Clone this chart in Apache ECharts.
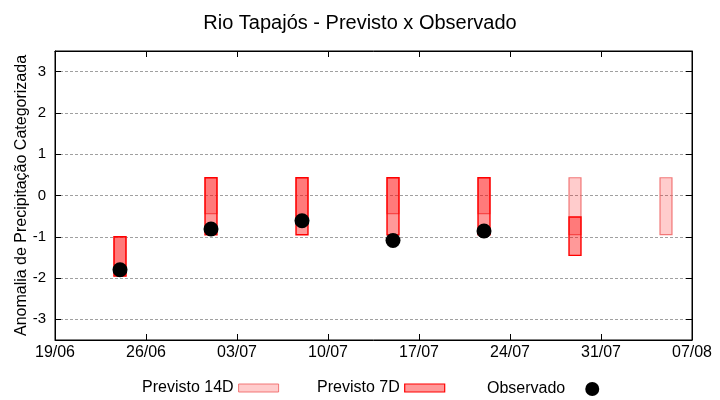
<!DOCTYPE html>
<html>
<head>
<meta charset="utf-8">
<script src="https://cdn.jsdelivr.net/npm/echarts@6/dist/echarts.min.js"></script>
<style>html,body{margin:0;padding:0;background:#fff}#c{width:720px;height:400px}</style>
</head>
<body>
<div id="c"></div>
<script>
// ---- data ----
var startDate = '19/06';
var tickLabels = ['19/06','26/06','03/07','10/07','17/07','24/07','31/07','07/08'];
var dates = ['24/06','01/07','08/07','15/07','22/07','29/07','05/08'];
var prev14Low  = [-1.95, -0.44, -0.60, -0.44, -0.44, -0.95, -0.95];
var prev14High = [-1.00,  0.43,  0.43,  0.43,  0.43,  0.43,  0.43];
var prev7Low   = [-1.95, -0.95, -0.95, -0.95, -0.95, -1.45, null];
var prev7High  = [-1.00,  0.43,  0.43,  0.43,  0.43, -0.52, null];
var observado  = [-1.80, -0.81, -0.61, -1.09, -0.86, null, null];

function dayOffset(s) {
  var a = s.split('/'), b = startDate.split('/');
  var t = Date.UTC(2024, +a[1] - 1, +a[0]);
  var t0 = Date.UTC(2024, +b[1] - 1, +b[0]);
  return Math.round((t - t0) / 86400000);
}

function boxData(lo, hi) {
  var out = [];
  for (var i = 0; i < dates.length; i++) {
    if (lo[i] == null || hi[i] == null) continue;
    out.push([dayOffset(dates[i]), lo[i], hi[i]]);
  }
  return out;
}
var obsData = [];
for (var i = 0; i < dates.length; i++) {
  if (observado[i] != null) obsData.push([dayOffset(dates[i]), observado[i]]);
}

function boxRender(fill, stroke, lw) {
  return function (params, api) {
    var x = api.value(0), lo = api.value(1), hi = api.value(2);
    var p1 = api.coord([x - 0.46, hi]);
    var p2 = api.coord([x + 0.46, lo]);
    return {
      type: 'rect',
      shape: { x: p1[0], y: p1[1], width: p2[0] - p1[0], height: p2[1] - p1[1] },
      style: { fill: fill, stroke: stroke, lineWidth: lw }
    };
  };
}

var FONT = '"Liberation Sans", Arial, sans-serif';
var c14Fill = 'rgba(255,0,0,0.2)', c14Stroke = 'rgba(240,100,100,0.85)';
var c7Fill = 'rgba(255,0,0,0.4)', c7Stroke = '#ff0000';

var chart = echarts.init(document.getElementById('c'), null, { renderer: 'canvas' });
var legendBase = {
  orient: 'horizontal', align: 'right', top: 375, itemGap: 10,
  textStyle: { fontFamily: FONT, fontSize: 16, color: '#000' },
  selectedMode: false
};
chart.setOption({
  animation: false,
  backgroundColor: '#fff',
  title: {
    text: 'Rio Tapajós - Previsto x Observado',
    left: 'center', top: 8,
    textStyle: { fontFamily: FONT, fontSize: 20, fontWeight: 'normal', color: '#000' }
  },
  legend: [
    Object.assign({}, legendBase, {
      left: 137, itemWidth: 40, itemHeight: 8,
      data: [{ name: 'Previsto 14D', icon: 'rect', itemStyle: { color: c14Fill, borderColor: c14Stroke, borderWidth: 1 } }]
    }),
    Object.assign({}, legendBase, {
      left: 312, itemWidth: 40, itemHeight: 8,
      data: [{ name: 'Previsto 7D', icon: 'rect', itemStyle: { color: c7Fill, borderColor: c7Stroke, borderWidth: 1.2 } }]
    }),
    Object.assign({}, legendBase, {
      left: 482, top: 376, itemWidth: 44, itemHeight: 14,
      data: [{ name: 'Observado', icon: 'circle', itemStyle: { color: '#000', opacity: 1 } }]
    })
  ],
  grid: { left: 55, right: 28, top: 51, bottom: 60, show: true, borderColor: '#000', borderWidth: 1, containLabel: false },
  xAxis: [{
    type: 'value', position: 'bottom', min: 0, max: 49, interval: 7,
    axisLine: { show: true, onZero: false, lineStyle: { color: '#000' } },
    axisTick: { show: true, inside: true, length: 6, lineStyle: { color: '#000' } },
    axisLabel: {
      margin: 5, fontFamily: FONT, fontSize: 16, color: '#000',
      formatter: function (v) { return tickLabels[Math.round(v / 7)] || ''; }
    },
    splitLine: { show: false }
  }, {
    type: 'value', position: 'top', min: 0, max: 49, interval: 7,
    axisLine: { show: true, onZero: false, lineStyle: { color: '#000' } },
    axisTick: { show: true, inside: true, length: 6, lineStyle: { color: '#000' } },
    axisLabel: { show: false },
    splitLine: { show: false }
  }],
  yAxis: [{
    type: 'value', position: 'left', min: -3.5, max: 3.5, splitNumber: 7,
    name: 'Anomalia de Precipitação Categorizada', nameLocation: 'middle', nameGap: 25,
    nameMoveOverlap: false,
    nameTextStyle: { fontFamily: FONT, fontSize: 16, color: '#000' },
    axisLine: { show: true, onZero: false, lineStyle: { color: '#000' } },
    axisTick: { show: true, inside: true, length: 6, lineStyle: { color: '#000' } },
    axisLabel: {
      margin: 9, fontFamily: FONT, fontSize: 15, color: '#000',
      formatter: function (v) { return Math.abs(v - Math.round(v)) < 1e-6 ? String(Math.round(v)) : ''; }
    },
    splitLine: { show: true, lineStyle: { color: '#a0a0a0', type: [3, 2], width: 1 } }
  }, {
    type: 'value', position: 'right', min: -3.5, max: 3.5, splitNumber: 7,
    axisLine: { show: true, onZero: false, lineStyle: { color: '#000' } },
    axisTick: { show: true, inside: true, length: 6, lineStyle: { color: '#000' } },
    axisLabel: { show: false },
    splitLine: { show: false }
  }],
  series: [{
    name: 'Previsto 14D', type: 'custom', xAxisIndex: 0, yAxisIndex: 0,
    itemStyle: { color: c14Fill, borderColor: c14Stroke },
    renderItem: boxRender(c14Fill, c14Stroke, 1.2),
    encode: { x: 0, y: [1, 2] },
    data: boxData(prev14Low, prev14High), z: 2
  }, {
    name: 'Previsto 7D', type: 'custom', xAxisIndex: 0, yAxisIndex: 0,
    itemStyle: { color: c7Fill, borderColor: c7Stroke },
    renderItem: boxRender(c7Fill, c7Stroke, 1.4),
    encode: { x: 0, y: [1, 2] },
    data: boxData(prev7Low, prev7High), z: 3
  }, {
    name: 'Observado', type: 'scatter', xAxisIndex: 0, yAxisIndex: 0,
    symbol: 'circle', symbolSize: 15,
    itemStyle: { color: '#000', opacity: 1 },
    data: obsData, z: 4
  }]
});
</script>
</body>
</html>
